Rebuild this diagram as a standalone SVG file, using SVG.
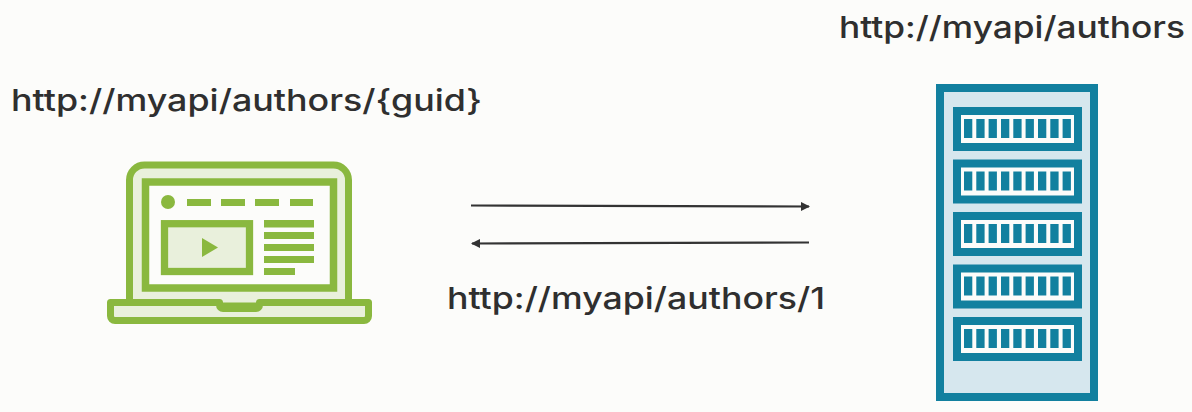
<svg xmlns="http://www.w3.org/2000/svg" width="1192" height="412" viewBox="0 0 1192 412">
<style>
text{font-family:"Inter","Noto Sans",sans-serif;font-size:30px;fill:#2f2f2f;font-weight:500}
.g{fill:#8ab83f}
.b{fill:#12809f}
.c{stroke:#333;stroke-width:2.200;fill:none}
</style>
<defs>
<marker id="a" markerWidth="9" markerHeight="9" refX="8" refY="4.500" orient="auto" markerUnits="userSpaceOnUse"><path d="M0 0L9 4.500L0 9Z" fill="#333"/></marker>
<g id="unit"><rect x="953" y="0" width="129" height="44" class="b"/><rect x="961" y="8" width="113" height="28" fill="#fcfcfa"/>
<path class="b" d="M964 12h8.300v19h-8.300zM976.300 12h8.300v19h-8.300zM988.600 12h8.300v19h-8.300zM1001 12h8.300v19h-8.300zM1013.300 12h8.300v19h-8.300zM1025.600 12h8.300v19h-8.300zM1038 12h8.300v19h-8.300zM1050.300 12h8.300v19h-8.300zM1062.600 12h8.300v19h-8.300z"/></g>
</defs>
<rect width="1192" height="412" fill="#fcfcfa"/>
<g id="connectors">
<path class="c" d="M471 205.500L809 206.500" marker-end="url(#a)"/>
<path class="c" d="M809 242.500L472 243.500" marker-end="url(#a)"/>
</g>
<g id="laptop">
<path d="M129.500 306V180a15 15 0 0 1 15-15H333.500a15 15 0 0 1 15 15V306Z" fill="#e9f0dc" stroke="#8ab83f" stroke-width="7"/>
<rect x="145.500" y="182" width="188" height="106" fill="#fcfcfa" stroke="#8ab83f" stroke-width="7.500"/>
<circle cx="168" cy="202" r="7" class="g"/>
<path class="g" d="M187 199h24v7h-24zM221 199h24v7h-24zM255 199h24v7h-24zM290 199h23v7h-23z"/>
<rect x="164.500" y="223.700" width="85" height="47.800" fill="#e9f0dc" stroke="#8ab83f" stroke-width="7.300"/>
<path class="g" d="M202 238L218 247.500L202 257Z"/>
<path class="g" d="M264 220h50v7.500h-50zM264 232h50v7h-50zM264 244h50v7h-50zM264 256h50v7h-50zM264 268h31v7h-31z"/>
<path d="M110.500 302.500H219.500V305a3.500 3.500 0 0 0 3.500 3.500H256a3.500 3.500 0 0 0 3.500-3.500V302.500H368.500V316a4.500 4.500 0 0 1-4.500 4.500H115a4.500 4.500 0 0 1-4.500-4.500Z" fill="#e9f0dc" stroke="#8ab83f" stroke-width="7" stroke-linejoin="round"/>
</g>
<g id="server">
<rect x="940" y="88" width="154" height="309" fill="#d6e7ee" stroke="#12809f" stroke-width="8"/>
<use href="#unit" y="107"/><use href="#unit" y="159.500"/><use href="#unit" y="212"/><use href="#unit" y="264.500"/><use href="#unit" y="317"/>
</g>
<g id="labels">
<text x="839" y="38" textLength="346" lengthAdjust="spacingAndGlyphs">http://myapi/authors</text>
<text x="11" y="111" textLength="471" lengthAdjust="spacingAndGlyphs">http://myapi/authors/{guid}</text>
<text x="447" y="309" textLength="378" lengthAdjust="spacingAndGlyphs">http://myapi/authors/1</text>
</g>
</svg>
